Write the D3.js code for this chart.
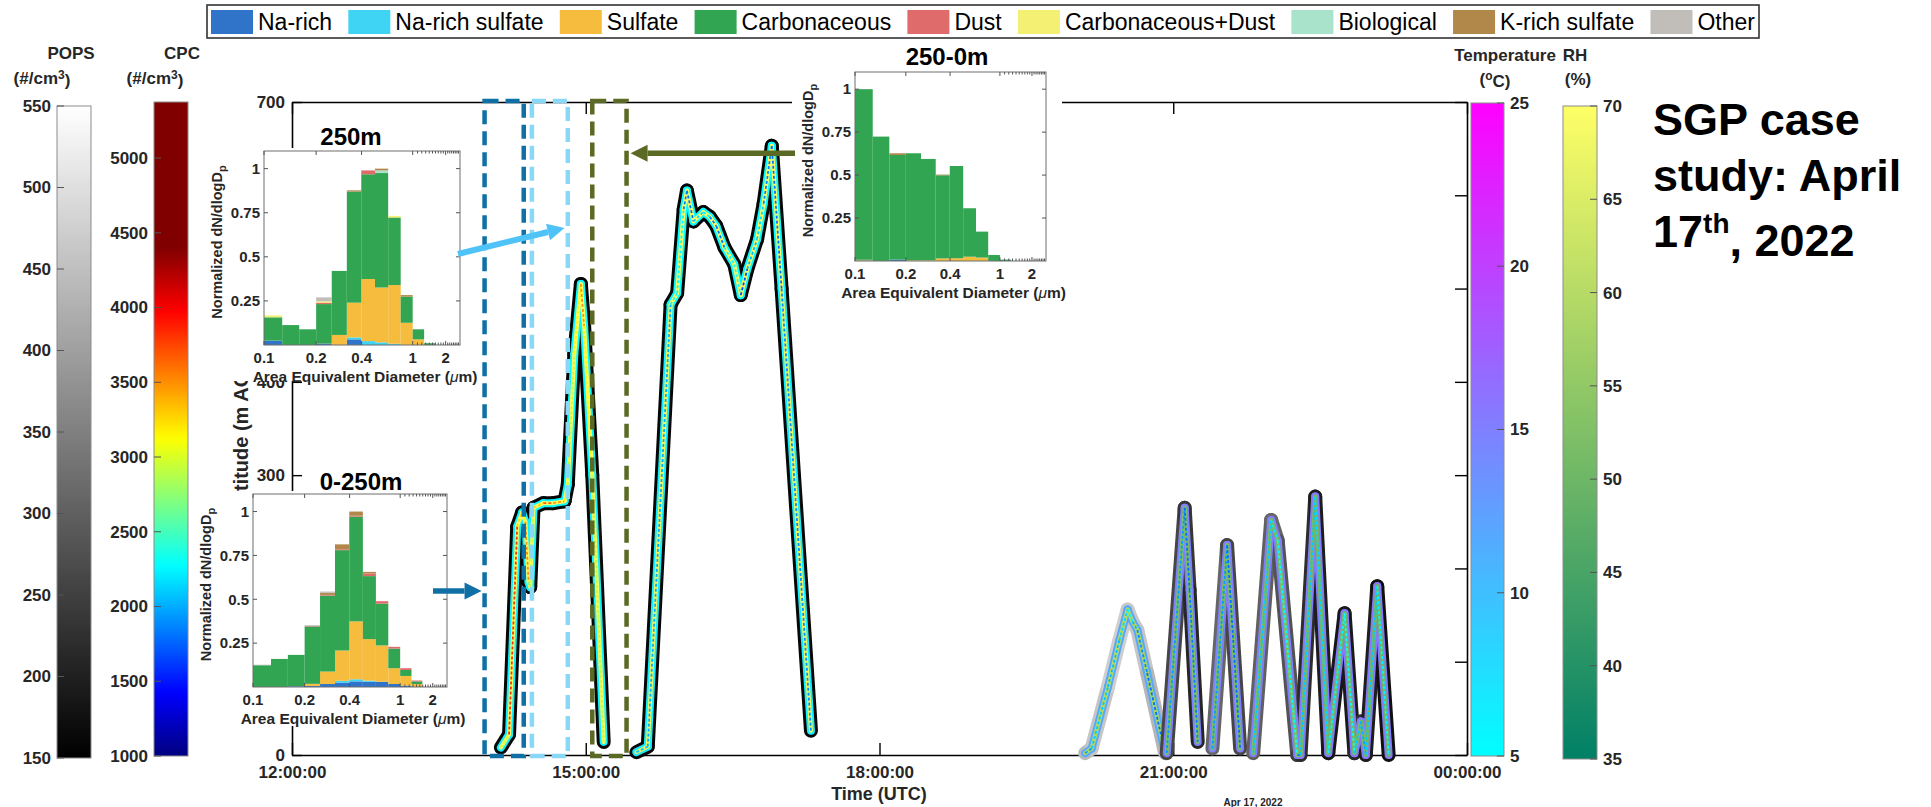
<!DOCTYPE html>
<html>
<head>
<meta charset="utf-8">
<script src="https://cdn.jsdelivr.net/npm/d3@7"></script>
<style>
  body { margin: 0; background: #fff; }
  svg { display: block; font-family: Arial, "Liberation Sans", Helvetica, sans-serif; }
</style>
</head>
<body>
<svg id="chart" width="1931" height="807"></svg>
<script>
// ---------------- particle classes ----------------
const classes = ["Na-rich", "Na-rich sulfate", "Sulfate", "Carbonaceous", "Dust",
                 "Carbonaceous+Dust", "Biological", "K-rich sulfate", "Other"];
const classColors = ["#2F74C9", "#3FD3F4", "#F6BC3D", "#31A552", "#E06B6B",
                     "#F3F074", "#A9E3CB", "#B2884A", "#C1BEB9"];

// size-bin edges (area equivalent diameter, um) and inset ticks
const binEdges = [0.1, 0.126, 0.158, 0.2, 0.251, 0.316, 0.398, 0.501, 0.631, 0.794, 1.0, 1.259, 1.585, 1.995];
const sizeTicks = [0.1, 0.2, 0.4, 1, 2];
const sizeMinorTicks = [1.1, 1.2, 1.3, 1.4, 1.5, 1.6, 1.7, 1.8, 1.9, 2.1, 2.2, 2.3, 2.4, 2.5, 2.6, 2.7];
const fracTicks = [0.25, 0.5, 0.75, 1];

// normalized dN/dlogDp per bin, columns in class order
const dist250m = [
  [0.025, 0, 0, 0.132, 0, 0.011, 0, 0, 0],
  [0, 0, 0, 0.113, 0, 0, 0, 0, 0],
  [0, 0, 0, 0.089, 0, 0, 0, 0, 0],
  [0.008, 0, 0, 0.224, 0.008, 0.008, 0, 0, 0.022],
  [0, 0, 0.057, 0.363, 0, 0, 0, 0, 0],
  [0.032, 0.011, 0.197, 0.630, 0, 0, 0, 0.007, 0],
  [0, 0.022, 0.352, 0.594, 0.022, 0, 0, 0, 0],
  [0, 0.015, 0.311, 0.649, 0, 0, 0.015, 0.010, 0],
  [0, 0.007, 0.333, 0.383, 0, 0.009, 0, 0, 0],
  [0, 0, 0.126, 0.148, 0, 0, 0, 0.009, 0],
  [0, 0, 0.032, 0.057, 0, 0, 0, 0, 0],
  [0, 0, 0, 0.010, 0, 0, 0, 0, 0],
  [0, 0, 0, 0, 0, 0, 0, 0, 0]
];
const dist0to250m = [
  [0, 0, 0, 0.124, 0, 0, 0, 0, 0.003],
  [0, 0, 0, 0.160, 0, 0, 0, 0, 0],
  [0.004, 0, 0, 0.179, 0, 0, 0, 0, 0],
  [0.006, 0, 0.012, 0.327, 0.003, 0, 0, 0, 0.004],
  [0.017, 0, 0.071, 0.433, 0.004, 0, 0, 0.012, 0.007],
  [0.025, 0.010, 0.173, 0.572, 0.005, 0, 0, 0.028, 0],
  [0.032, 0.012, 0.330, 0.597, 0.005, 0, 0, 0.024, 0],
  [0.030, 0.006, 0.237, 0.359, 0.015, 0, 0, 0.009, 0],
  [0.030, 0, 0.207, 0.238, 0.014, 0, 0, 0, 0],
  [0.017, 0, 0.090, 0.112, 0.010, 0, 0, 0, 0],
  [0.008, 0, 0.055, 0.034, 0.010, 0, 0, 0, 0],
  [0, 0, 0.017, 0.015, 0.005, 0, 0, 0, 0],
  [0, 0, 0, 0, 0, 0, 0, 0, 0]
];
const dist250to0m = [
  [0.003, 0, 0.004, 0.993, 0, 0, 0, 0, 0],
  [0, 0, 0, 0.724, 0, 0, 0, 0, 0],
  [0.008, 0, 0, 0.609, 0, 0, 0, 0.010, 0],
  [0, 0, 0.004, 0.623, 0, 0, 0, 0, 0],
  [0, 0, 0.004, 0.590, 0, 0, 0, 0, 0],
  [0, 0, 0.015, 0.484, 0, 0, 0, 0.004, 0],
  [0, 0, 0.016, 0.537, 0, 0, 0, 0, 0],
  [0, 0, 0.025, 0.282, 0, 0, 0, 0, 0],
  [0, 0, 0.020, 0.151, 0, 0, 0, 0, 0],
  [0, 0, 0, 0.035, 0, 0, 0, 0, 0],
  [0, 0, 0, 0.008, 0, 0, 0, 0, 0],
  [0, 0, 0, 0, 0, 0, 0, 0, 0],
  [0, 0, 0, 0, 0, 0, 0, 0, 0]
];

// ---------------- flight tracks ----------------
// [time UTC, altitude m AGL, POPS #/cm3, temperature C, RH %, CPC #/cm3]
const flight1 = [
  ["14:08", 8, 165, 6.5, 68, 2600], ["14:13", 22, 160, 6.4, 68, 3400],
  ["14:18", 245, 158, 6.0, 69, 4200], ["14:21", 260, 160, 5.9, 69, 2300],
  ["14:23", 250, 162, 5.9, 69, 3900], ["14:25", 185, 160, 6.0, 68, 3100],
  ["14:26", 180, 158, 6.0, 68, 2200], ["14:28", 265, 160, 5.8, 69, 3600],
  ["14:34", 270, 162, 5.8, 69, 2900], ["14:40", 270, 160, 5.8, 69, 4400],
  ["14:47", 272, 158, 5.8, 69, 2500], ["14:49", 290, 160, 5.7, 69, 3800],
  ["14:53", 430, 158, 5.4, 70, 2000], ["14:57", 505, 157, 5.2, 70, 4300],
  ["14:59", 460, 158, 5.3, 70, 2700], ["15:04", 300, 160, 5.6, 69, 3500],
  ["15:11", 14, 165, 6.6, 68, 2300]
];
const flight2 = [
  ["15:31", 3, 165, 7.0, 66, 1900], ["15:38", 9, 162, 7.0, 66, 2300],
  ["15:52", 483, 158, 5.5, 69, 1700], ["15:56", 495, 158, 5.4, 69, 3000],
  ["16:00", 585, 157, 5.2, 70, 1600], ["16:02", 605, 157, 5.1, 70, 2100],
  ["16:06", 572, 158, 5.2, 70, 1500], ["16:12", 582, 158, 5.2, 70, 2800],
  ["16:16", 577, 158, 5.2, 70, 1700], ["16:20", 567, 158, 5.3, 70, 2000],
  ["16:25", 544, 158, 5.3, 69, 1600], ["16:31", 526, 158, 5.4, 69, 3100],
  ["16:35", 493, 159, 5.5, 69, 1800], ["16:39", 521, 158, 5.4, 69, 1500],
  ["16:45", 553, 158, 5.3, 70, 2600], ["16:49", 591, 157, 5.2, 70, 1700],
  ["16:54", 653, 156, 5.0, 70, 2000], ["17:00", 500, 158, 5.4, 69, 1600],
  ["17:18", 26, 165, 7.2, 66, 2200]
];
const flight3 = [
  ["20:06", 2, 430, 11.5, 59, 2100], ["20:10", 7, 450, 11.6, 59, 1800],
  ["20:20", 73, 470, 11.8, 60, 2400], ["20:27", 123, 480, 12.0, 60, 1700],
  ["20:32", 156, 470, 12.1, 59, 2600], ["20:35", 143, 460, 12.0, 59, 1900],
  ["20:38", 134, 470, 12.0, 59, 2200], ["20:44", 88, 450, 11.8, 58, 1600],
  ["20:55", 2, 420, 11.6, 58, 2000]
];
const flight4 = [
  ["20:56", 2, 280, 14.8, 53, 2300], ["21:07", 265, 240, 15.2, 51, 1600],
  ["21:10", 177, 230, 15.1, 52, 2000], ["21:15", 14, 190, 14.9, 53, 1700]
];
const flight5 = [
  ["21:24", 7, 300, 15.0, 52, 2200], ["21:33", 225, 320, 15.3, 51, 1700],
  ["21:41", 7, 200, 15.1, 52, 1900]
];
const flight6 = [
  ["21:49", 2, 280, 15.0, 52, 2400], ["22:00", 252, 320, 15.4, 51, 1800],
  ["22:04", 230, 300, 15.3, 51, 2600], ["22:16", 0, 260, 15.1, 52, 2000],
  ["22:18", 0, 240, 15.1, 52, 1700], ["22:27", 277, 200, 15.6, 50, 2500],
  ["22:35", 2, 190, 15.3, 51, 1800], ["22:45", 152, 180, 15.6, 50, 2700],
  ["22:51", 2, 200, 15.4, 51, 1900], ["22:55", 36, 230, 15.4, 51, 2300],
  ["22:58", 0, 220, 15.4, 51, 1700], ["23:05", 181, 170, 15.7, 50, 2500],
  ["23:12", 0, 180, 15.5, 50, 2000]
];
const flights = [flight1, flight2, flight3, flight4, flight5, flight6];

// sampling windows behind each size distribution
const windows = [
  { start: "13:58", end: "14:22", color: "#1070A5" },
  { start: "14:27", end: "14:49", color: "#8AD8F8" },
  { start: "15:04", end: "15:25", color: "#5A6A24" }
];

// main axis ticks
const altTicks = [0, 100, 200, 300, 400, 500, 600, 700];
const popsTicks = [150, 200, 250, 300, 350, 400, 450, 500, 550];
const cpcTicks = [1000, 1500, 2000, 2500, 3000, 3500, 4000, 4500, 5000];
const tempTicks = [5, 10, 15, 20, 25];
const rhTicks = [35, 40, 45, 50, 55, 60, 65, 70];

// ---------------- setup ----------------
const svg = d3.select("#chart");
const defs = svg.append("defs");
svg.append("rect").attr("width", 1931).attr("height", 807).attr("fill", "#fff");

const parseT = d3.utcParse("%Y-%m-%d %H:%M");
const tm = s => parseT("2022-04-17 " + s);

const x = d3.scaleUtc()
  .domain([parseT("2022-04-17 12:00"), parseT("2022-04-18 00:00")])
  .range([292, 1467]);
const y = d3.scaleLinear().domain([0, 700]).range([755, 102]);

// colour maps
const popsColor = d3.scaleLinear().domain([150, 550]).range(["#000000", "#ffffff"]).clamp(true);
const cpcColor = d3.scaleLinear()
  .domain([1000, 1425, 2275, 3125, 3975, 4400])
  .range(["#000080", "#0000ff", "#00ffff", "#ffff00", "#ff0000", "#800000"]).clamp(true);
const tempColor = d3.scaleLinear().domain([5, 25]).range(["#00ffff", "#ff00ff"]).clamp(true);
const rhColor = d3.scaleLinear().domain([35, 70]).range(["#008066", "#ffff66"]).clamp(true);

const labelColor = "#262626";

// ---------------- main axes ----------------
const axes = svg.append("g");
const styleAxis = g => {
  g.selectAll(".domain").attr("stroke", "#000").attr("stroke-width", 1.6);
  g.selectAll(".tick line").attr("stroke", "#000").attr("stroke-width", 1.4);
  g.selectAll("text").attr("fill", labelColor).style("font-size", "17px").style("font-weight", "bold");
};
axes.append("g").attr("transform", "translate(292,0)")
  .call(d3.axisLeft(y).tickValues(altTicks).tickSizeInner(-10).tickSizeOuter(0).tickPadding(7))
  .call(styleAxis);
axes.append("g").attr("transform", "translate(1467,0)")
  .call(d3.axisRight(y).tickValues(altTicks).tickSizeInner(-12).tickSizeOuter(0).tickFormat(""))
  .call(styleAxis);
axes.append("g").attr("transform", "translate(0,755)")
  .call(d3.axisBottom(x).ticks(d3.utcHour.every(3)).tickSizeInner(-12).tickSizeOuter(0)
    .tickPadding(11).tickFormat(d3.utcFormat("%H:%M:%S")))
  .call(styleAxis);
axes.append("g").attr("transform", "translate(0,102)")
  .call(d3.axisTop(x).ticks(d3.utcHour.every(3)).tickSizeInner(-12).tickSizeOuter(0).tickFormat(""))
  .call(styleAxis);

axes.append("text")
  .attr("transform", "translate(248,432) rotate(-90)")
  .attr("text-anchor", "middle").attr("fill", labelColor)
  .style("font-size", "20px").style("font-weight", "bold")
  .text("Altitude (m AGL)");
axes.append("text").attr("x", 879).attr("y", 800).attr("text-anchor", "middle")
  .attr("fill", labelColor).style("font-size", "18px").style("font-weight", "bold")
  .text("Time (UTC)");
axes.append("text").attr("x", 1253).attr("y", 806).attr("text-anchor", "middle")
  .attr("fill", labelColor).style("font-size", "10px").style("font-weight", "bold")
  .text("Apr 17, 2022");

// ---------------- flight tracks ----------------
const trackLayers = [
  { col: 2, color: popsColor, width: 14, dash: null },
  { col: 3, color: tempColor, width: 8, dash: null },
  { col: 4, color: rhColor, width: 4, dash: null },
  { col: 5, color: cpcColor, width: 1.8, dash: "3 2" }
];
const tracks = svg.append("g");
flights.forEach(f => {
  const pts = f.map(r => ({ px: x(tm(r[0])), py: y(r[1]), r }));
  const segs = d3.pairs(pts);
  const g = tracks.append("g");
  trackLayers.forEach(L => {
    g.append("g").selectAll("line").data(segs).join("line")
      .attr("x1", d => d[0].px).attr("y1", d => d[0].py)
      .attr("x2", d => d[1].px).attr("y2", d => d[1].py)
      .attr("stroke", d => L.color((d[0].r[L.col] + d[1].r[L.col]) / 2))
      .attr("stroke-width", L.width)
      .attr("stroke-linecap", L.dash ? "butt" : "round")
      .attr("stroke-dasharray", L.dash);
  });
});

// sampling windows
svg.append("g").selectAll("rect").data(windows).join("rect")
  .attr("x", d => x(tm(d.start)))
  .attr("width", d => x(tm(d.end)) - x(tm(d.start)))
  .attr("y", y(700) - 1).attr("height", y(0) - y(700) + 2)
  .attr("fill", "none").attr("stroke", d => d.color)
  .attr("stroke-width", 4.5).attr("stroke-dasharray", "14 7");

// ---------------- size-distribution insets ----------------
function drawInset(spec) {
  const { rows, title, box, bg, titleX, titleY } = spec;
  const g = svg.append("g");
  g.append("rect").attr("x", bg[0]).attr("y", bg[1]).attr("width", bg[2] - bg[0]).attr("height", bg[3] - bg[1])
    .attr("fill", "#fff");
  const xs = d3.scalePow().exponent(-0.2).domain([0.1, 2.8]).range([box.x0, box.x1]);
  const ys = d3.scaleLinear().domain([0, 1.1]).range([box.y1, box.y0]);
  const stacked = d3.stack().keys(d3.range(classes.length)).value((r, k) => r[k])(rows);
  stacked.forEach((layer, k) => {
    g.append("g").selectAll("rect").data(layer).join("rect")
      .attr("x", (d, i) => xs(binEdges[i]))
      .attr("width", (d, i) => xs(binEdges[i + 1]) - xs(binEdges[i]))
      .attr("y", d => ys(d[1]))
      .attr("height", d => Math.max(0, ys(d[0]) - ys(d[1])))
      .attr("fill", classColors[k]);
  });
  // frame
  g.append("rect").attr("x", box.x0).attr("y", box.y0).attr("width", box.x1 - box.x0).attr("height", box.y1 - box.y0)
    .attr("fill", "none").attr("stroke", "#6e6e6e").attr("stroke-width", 1);
  const tk = g.append("g").attr("stroke", "#555").attr("stroke-width", 1);
  fracTicks.forEach(v => {
    tk.append("line").attr("x1", box.x0).attr("x2", box.x0 + 4).attr("y1", ys(v)).attr("y2", ys(v));
    tk.append("line").attr("x1", box.x1).attr("x2", box.x1 - 4).attr("y1", ys(v)).attr("y2", ys(v));
  });
  sizeTicks.forEach(v => {
    tk.append("line").attr("x1", xs(v)).attr("x2", xs(v)).attr("y1", box.y1).attr("y2", box.y1 - 4);
    tk.append("line").attr("x1", xs(v)).attr("x2", xs(v)).attr("y1", box.y0).attr("y2", box.y0 + 4);
  });
  sizeMinorTicks.forEach(v => {
    tk.append("line").attr("x1", xs(v)).attr("x2", xs(v)).attr("y1", box.y1).attr("y2", box.y1 - 2.5);
    tk.append("line").attr("x1", xs(v)).attr("x2", xs(v)).attr("y1", box.y0).attr("y2", box.y0 + 2.5);
  });
  const lab = g.append("g").attr("fill", labelColor).style("font-weight", "bold");
  lab.selectAll(".yl").data(fracTicks).join("text").attr("class", "yl")
    .attr("x", box.x0 - 4).attr("y", d => ys(d)).attr("dy", "0.35em").attr("text-anchor", "end")
    .style("font-size", "15px").text(d => String(d));
  lab.selectAll(".xl").data(sizeTicks).join("text").attr("class", "xl")
    .attr("x", d => xs(d)).attr("y", box.y1 + 7).attr("dy", "0.71em").attr("text-anchor", "middle")
    .style("font-size", "15px").text(d => String(d));
  const xl = lab.append("text").attr("x", (box.x0 + box.x1) / 2 + 3).attr("y", box.y1 + 37)
    .attr("text-anchor", "middle").style("font-size", "15.5px");
  xl.append("tspan").text("Area Equivalent Diameter (");
  xl.append("tspan").style("font-style", "italic").style("font-weight", "normal").text("\u03bc");
  xl.append("tspan").text("m)");
  const yl = lab.append("text")
    .attr("transform", `translate(${box.x0 - 42},${(box.y0 + box.y1) / 2 - 6}) rotate(-90)`)
    .attr("text-anchor", "middle").style("font-size", "14.5px");
  yl.append("tspan").text("Normalized dN/dlogD");
  yl.append("tspan").attr("dy", "0.35em").style("font-size", "11px").text("p");
  g.append("text").attr("x", titleX).attr("y", titleY).attr("text-anchor", "middle")
    .attr("fill", "#000").style("font-size", "24px").style("font-weight", "bold").text(title);
  return { xs, ys };
}

drawInset({ rows: dist250m, title: "250m", box: { x0: 264, x1: 460, y0: 151, y1: 345 },
  bg: [205, 148, 470, 381], titleX: 351, titleY: 145 });
drawInset({ rows: dist0to250m, title: "0-250m", box: { x0: 253, x1: 447, y0: 494, y1: 687 },
  bg: [198, 491, 462, 726], titleX: 361, titleY: 490 });
drawInset({ rows: dist250to0m, title: "250-0m", box: { x0: 855, x1: 1046, y0: 72, y1: 261 },
  bg: [792, 68, 1062, 305], titleX: 947, titleY: 65 });

// ---------------- arrows ----------------
function arrow(x1, y1, x2, y2, color, w) {
  const ang = Math.atan2(y2 - y1, x2 - x1);
  const hl = 17, hw = 8.5;
  const bx = x2 - hl * Math.cos(ang), by = y2 - hl * Math.sin(ang);
  const g = svg.append("g");
  g.append("line").attr("x1", x1).attr("y1", y1).attr("x2", bx).attr("y2", by)
    .attr("stroke", color).attr("stroke-width", w);
  const px = -Math.sin(ang) * hw, py = Math.cos(ang) * hw;
  g.append("path").attr("d", `M${x2},${y2}L${bx + px},${by + py}L${bx - px},${by - py}Z`).attr("fill", color);
}
arrow(458, 254, x(tm("14:47")), y(565), "#4FC3F7", 6);
arrow(433, 591, x(tm(windows[0].start)) - 3, 591, "#1070A5", 5.5);
arrow(795, y(645), x(tm(windows[2].end)) + 4, y(645), "#5A6A24", 5.5);

// ---------------- colour bars ----------------
function colorbar(o) {
  const { id, x0, w, scale, color, ticks, labelX, anchor, tickSide } = o;
  const [v0, v1] = scale.domain();
  const grad = defs.append("linearGradient").attr("id", id)
    .attr("x1", 0).attr("y1", 1).attr("x2", 0).attr("y2", 0);
  d3.range(0, 101).forEach(i => {
    const f = i / 100;
    grad.append("stop").attr("offset", f).attr("stop-color", color(v0 + f * (v1 - v0)));
  });
  const yT = scale(v1), yB = scale(v0);
  const g = svg.append("g");
  g.append("rect").attr("x", x0).attr("y", yT).attr("width", w).attr("height", yB - yT)
    .attr("fill", `url(#${id})`).attr("stroke", "#8c8c8c").attr("stroke-width", 1);
  const edge = tickSide === "left" ? x0 : x0 + w;
  const dir = tickSide === "left" ? 1 : -1;
  g.selectAll("line.t").data(ticks).join("line").attr("class", "t")
    .attr("x1", edge).attr("x2", edge + 7 * dir).attr("y1", d => scale(d)).attr("y2", d => scale(d))
    .attr("stroke", "#555").attr("stroke-width", 1);
  g.selectAll("text").data(ticks).join("text")
    .attr("x", labelX).attr("y", d => scale(d)).attr("dy", "0.35em").attr("text-anchor", anchor)
    .attr("fill", labelColor).style("font-size", "17px").style("font-weight", "bold").text(d => d);
}
colorbar({ id: "gPops", x0: 57, w: 34, scale: d3.scaleLinear().domain([150, 550]).range([758, 106]),
  color: popsColor, ticks: popsTicks, labelX: 51, anchor: "end", tickSide: "left" });
colorbar({ id: "gCpc", x0: 154, w: 34, scale: d3.scaleLinear().domain([1000, 5375]).range([756, 102]),
  color: cpcColor, ticks: cpcTicks, labelX: 148, anchor: "end", tickSide: "left" });
colorbar({ id: "gTemp", x0: 1471, w: 33, scale: d3.scaleLinear().domain([5, 25]).range([756, 103]),
  color: tempColor, ticks: tempTicks, labelX: 1510, anchor: "start", tickSide: "right" });
colorbar({ id: "gRh", x0: 1563, w: 34, scale: d3.scaleLinear().domain([35, 70]).range([759, 106]),
  color: rhColor, ticks: rhTicks, labelX: 1603, anchor: "start", tickSide: "right" });

// colour bar titles
const cbt = svg.append("g").attr("fill", labelColor).style("font-weight", "bold")
  .style("font-size", "17px").attr("text-anchor", "middle");
function unitCm3(xc) {
  const t = cbt.append("text").attr("x", xc).attr("y", 84);
  t.append("tspan").text("(#/cm");
  t.append("tspan").attr("dy", "-0.45em").style("font-size", "12px").text("3");
  t.append("tspan").attr("dy", "0.45em").text(")");
}
cbt.append("text").attr("x", 71).attr("y", 59).text("POPS");
unitCm3(42);
cbt.append("text").attr("x", 182).attr("y", 59).text("CPC");
unitCm3(155);
cbt.append("text").attr("x", 1505).attr("y", 61).text("Temperature");
const tu = cbt.append("text").attr("x", 1495).attr("y", 85);
tu.append("tspan").text("(");
tu.append("tspan").attr("dy", "-0.45em").style("font-size", "12px").text("o");
tu.append("tspan").attr("dy", "0.45em").text("C)");
cbt.append("text").attr("x", 1575).attr("y", 61).text("RH");
cbt.append("text").attr("x", 1578).attr("y", 85).text("(%)");

// ---------------- legend ----------------
const legend = svg.append("g");
legend.append("rect").attr("x", 207).attr("y", 5).attr("width", 1552).attr("height", 33)
  .attr("fill", "#fff").attr("stroke", "#333").attr("stroke-width", 1.6);
const items = legend.selectAll("g.item").data(classes).join("g").attr("class", "item");
items.append("rect").attr("y", 10).attr("width", 42).attr("height", 24).attr("fill", (d, i) => classColors[i]);
items.append("text").attr("x", 47).attr("y", 30).attr("fill", "#000").style("font-size", "23px").text(d => d);
const widths = items.nodes().map(n => 47 + d3.select(n).select("text").node().getComputedTextLength());
const gap = (1552 - 8 - d3.sum(widths)) / (classes.length - 1);
let cursor = 207 + 4;
items.attr("transform", (d, i) => { const tx = cursor; cursor += widths[i] + gap; return `translate(${tx},0)`; });

// ---------------- title ----------------
const title = svg.append("g").attr("fill", "#000").style("font-weight", "bold").style("font-size", "45px");
title.append("text").attr("x", 1653).attr("y", 135).text("SGP case");
title.append("text").attr("x", 1653).attr("y", 191).text("study: April");
const l3 = title.append("text").attr("x", 1653).attr("y", 247);
l3.append("tspan").text("17");
l3.append("tspan").attr("dy", "-0.5em").style("font-size", "28px").text("th");
l3.append("tspan").attr("dy", "0.5em").text(", 2022");
</script>
</body>
</html>
